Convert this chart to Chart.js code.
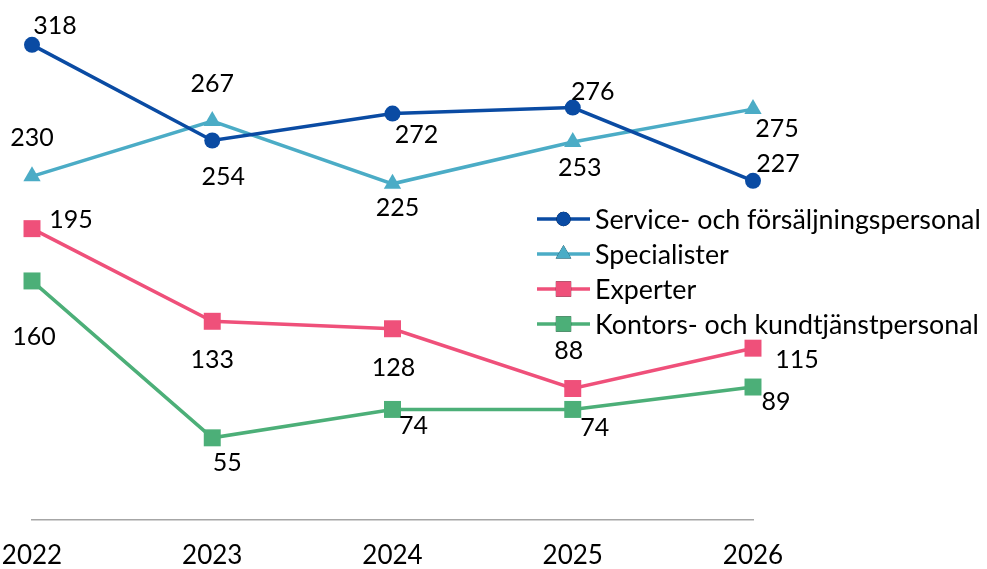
<!DOCTYPE html>
<html>
<head>
<meta charset="utf-8">
<script src="https://cdn.jsdelivr.net/npm/chart.js@4"></script>
<style>
  html, body { margin: 0; padding: 0; background: #fff; }
  #wrap { width: 987px; height: 569px; }
</style>
</head>
<body>
<div id="wrap"><canvas id="chart" width="987" height="569"></canvas></div>
<script>
var years = ["2022", "2023", "2024", "2025", "2026"];
var seriesNames = ["Service- och försäljningspersonal", "Specialister", "Experter", "Kontors- och kundtjänstpersonal"];
var service = [318, 254, 272, 276, 227];
var specialister = [230, 267, 225, 253, 275];
var experter = [195, 133, 128, 88, 115];
var kontors = [160, 55, 74, 74, 89];

var colors = ["#0a4ba3", "#4bacc6", "#ef507a", "#4caf78"];
var pointStyles = ["circle", "triangle", "rect", "rect"];
var pointSizes = [8, 10, 12, 12];

// label offsets (px) from each point, per series
var labelOffsets = [
    [[23, -19], [11, 36], [24, 21], [20, -16], [25, -17]],
    [[0, -38], [0, -37], [5, 24], [7, 26], [24, 20]],
    [[39, -9], [0, 39], [1, 39], [-4, -38], [44, 12]],
    [[2, 56], [15, 25], [21, 17], [22, 19], [23, 15]]
];

var FONT = "Lato, 'Open Sans', sans-serif";

var dataLabels = {
    id: 'dataLabels',
    afterDatasetsDraw: function(chart){
        var ctx = chart.ctx;
        ctx.save();
        ctx.font = "25px " + FONT;
        ctx.fillStyle = "#000";
        ctx.textAlign = "center";
        ctx.textBaseline = "middle";
        chart.data.datasets.forEach(function(ds, i){
            chart.getDatasetMeta(i).data.forEach(function(pt, j){
                var off = labelOffsets[i][j];
                ctx.fillText(ds.data[j], pt.x + off[0], pt.y + off[1]);
            });
        });
        ctx.restore();
    }
};

var overlayLegend = {
    id: 'overlayLegend',
    afterDraw: function(chart){
        var ctx = chart.ctx;
        var x0 = 537, x1 = 590, y0 = 219, step = 35;
        ctx.save();
        var size = 25;
        ctx.font = size + "px " + FONT;
        var w = ctx.measureText(seriesNames[0]).width;
        size = size * 386 / w;
        ctx.font = size + "px " + FONT;
        ctx.textBaseline = "middle";
        ctx.textAlign = "left";
        chart.data.datasets.forEach(function(ds, i){
            var y = y0 + i * step;
            ctx.strokeStyle = colors[i];
            ctx.lineWidth = 3.5;
            ctx.beginPath();
            ctx.moveTo(x0, y);
            ctx.lineTo(x1, y);
            ctx.stroke();
            Chart.helpers.drawPoint(ctx, {
                pointStyle: pointStyles[i],
                radius: pointSizes[i] * 0.9,
                rotation: 0,
                borderWidth: 0
            }, (x0 + x1) / 2, y);
            ctx.fillStyle = colors[i];
            ctx.fill();
            ctx.fillStyle = "#000";
            ctx.fillText(seriesNames[i], 595, y + 1);
        });
        ctx.restore();
    }
};

var allSeries = [service, specialister, experter, kontors];
var datasets = allSeries.map(function(vals, i){
    return {
        label: seriesNames[i],
        data: vals,
        borderColor: colors[i],
        backgroundColor: colors[i],
        borderWidth: 3.5,
        pointStyle: pointStyles[i],
        pointRadius: pointSizes[i],
        pointHoverRadius: pointSizes[i],
        pointBorderWidth: 0,
        tension: 0
    };
});

new Chart(document.getElementById("chart").getContext("2d"), {
    type: 'line',
    data: { labels: years, datasets: datasets },
    options: {
        responsive: false,
        animation: false,
        layout: { padding: { top: 10, left: 32, right: 234, bottom: 0 } },
        plugins: {
            legend: { display: false },
            tooltip: { enabled: false }
        },
        scales: {
            x: {
                offset: false,
                grid: { display: false, drawTicks: false },
                border: { display: true, color: "#a6a6a6", width: 1.5 },
                ticks: { color: "#000", font: { family: FONT, size: 26 }, padding: 20, maxRotation: 0 },
                afterFit: function(scale){
                    scale.height = 49;
                    scale.paddingLeft = 0;
                    scale.paddingRight = 0;
                }
            },
            y: {
                display: false,
                min: 0,
                max: 340
            }
        }
    },
    plugins: [dataLabels, overlayLegend]
});
</script>
</body>
</html>
